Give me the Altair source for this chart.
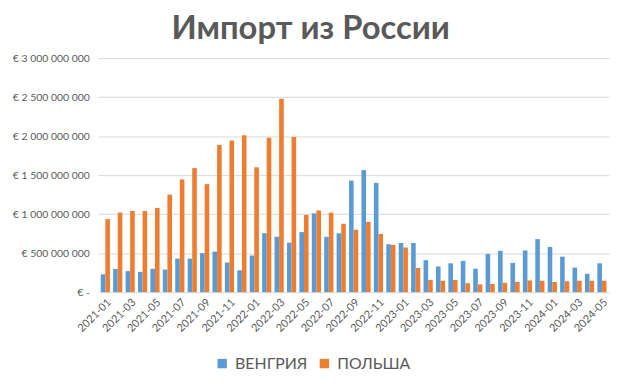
import altair as alt
import pandas as pd

months = [f"{y}-{m:02d}" for y in (2021, 2022, 2023, 2024) for m in range(1, 13)][:41]

hungary = [0.229, 0.297, 0.27, 0.26, 0.30, 0.29, 0.43, 0.43, 0.50, 0.52, 0.38, 0.28,
           0.47, 0.755, 0.71, 0.635, 0.77, 1.01, 0.71, 0.755, 1.43, 1.565, 1.40, 0.614,
           0.63, 0.63, 0.41, 0.33, 0.37, 0.40, 0.30, 0.49, 0.53, 0.375, 0.535, 0.68,
           0.58, 0.455, 0.315, 0.235, 0.37]
poland = [0.936, 1.02, 1.04, 1.04, 1.08, 1.25, 1.445, 1.59, 1.385, 1.885, 1.945, 2.01,
          1.60, 1.98, 2.48, 1.99, 0.99, 1.047, 1.02, 0.877, 0.80, 0.90, 0.746, 0.606,
          0.572, 0.31, 0.157, 0.146, 0.155, 0.115, 0.10, 0.105, 0.12, 0.13, 0.15, 0.146,
          0.13, 0.14, 0.146, 0.146, 0.146]

series = ["ВЕНГРИЯ", "ПОЛЬША"]
colors = ["#5B9BD5", "#ED7D31"]
label_months = months[::2]
y_ticks = [0, 5e8, 1e9, 1.5e9, 2e9, 2.5e9, 3e9]

rows = []
for i, m in enumerate(months):
    rows.append({"month": m, "country": series[0], "value": hungary[i] * 1e9})
    rows.append({"month": m, "country": series[1], "value": poland[i] * 1e9})
df = pd.DataFrame(rows)

grey = "#595959"
font = "Lato"

y_label = ("datum.value == 0 ? '€ -' : '€ ' + replace(replace(replace(format(datum.value, ',d'), ',', ' '), ',', ' '), ',', ' ')")

chart = alt.Chart(df).mark_bar().encode(
    x=alt.X("month:N", sort=months,
            scale=alt.Scale(paddingInner=0.26, paddingOuter=0.2),
            axis=alt.Axis(title=None, values=label_months, labelAngle=-45,
                          labelFontSize=11, labelColor=grey, labelFont=font,
                          domain=False, ticks=False, labelPadding=4)),
    xOffset=alt.XOffset("country:N", sort=series),
    y=alt.Y("value:Q", scale=alt.Scale(domain=[0, 3e9]),
            axis=alt.Axis(title=None, values=y_ticks, labelExpr=y_label,
                          labelFontSize=10.5, labelColor=grey, labelFont=font,
                          domain=False, ticks=False, labelPadding=9,
                          gridColor="#D9D9D9", gridWidth=1)),
    color=alt.Color("country:N", sort=series,
                    scale=alt.Scale(domain=series, range=colors),
                    legend=alt.Legend(title=None, orient="none", direction="horizontal",
                                      legendX=117, legendY=300,
                                      symbolType="square", symbolSize=90,
                                      labelFontSize=16, labelColor=grey, labelFont=font,
                                      labelOffset=5, columnPadding=9)),
).properties(
    width=515,
    height=236,
    title=alt.TitleParams("Импорт из России", fontSize=33, font=font, fontWeight="bold",
                          color=grey, anchor="middle", frame="bounds", offset=7),
    padding={"left": 4, "top": 4, "right": 2, "bottom": 2},
).configure_view(stroke=None)

chart.save("out.html", embed_options={"renderer": "svg", "actions": False})
